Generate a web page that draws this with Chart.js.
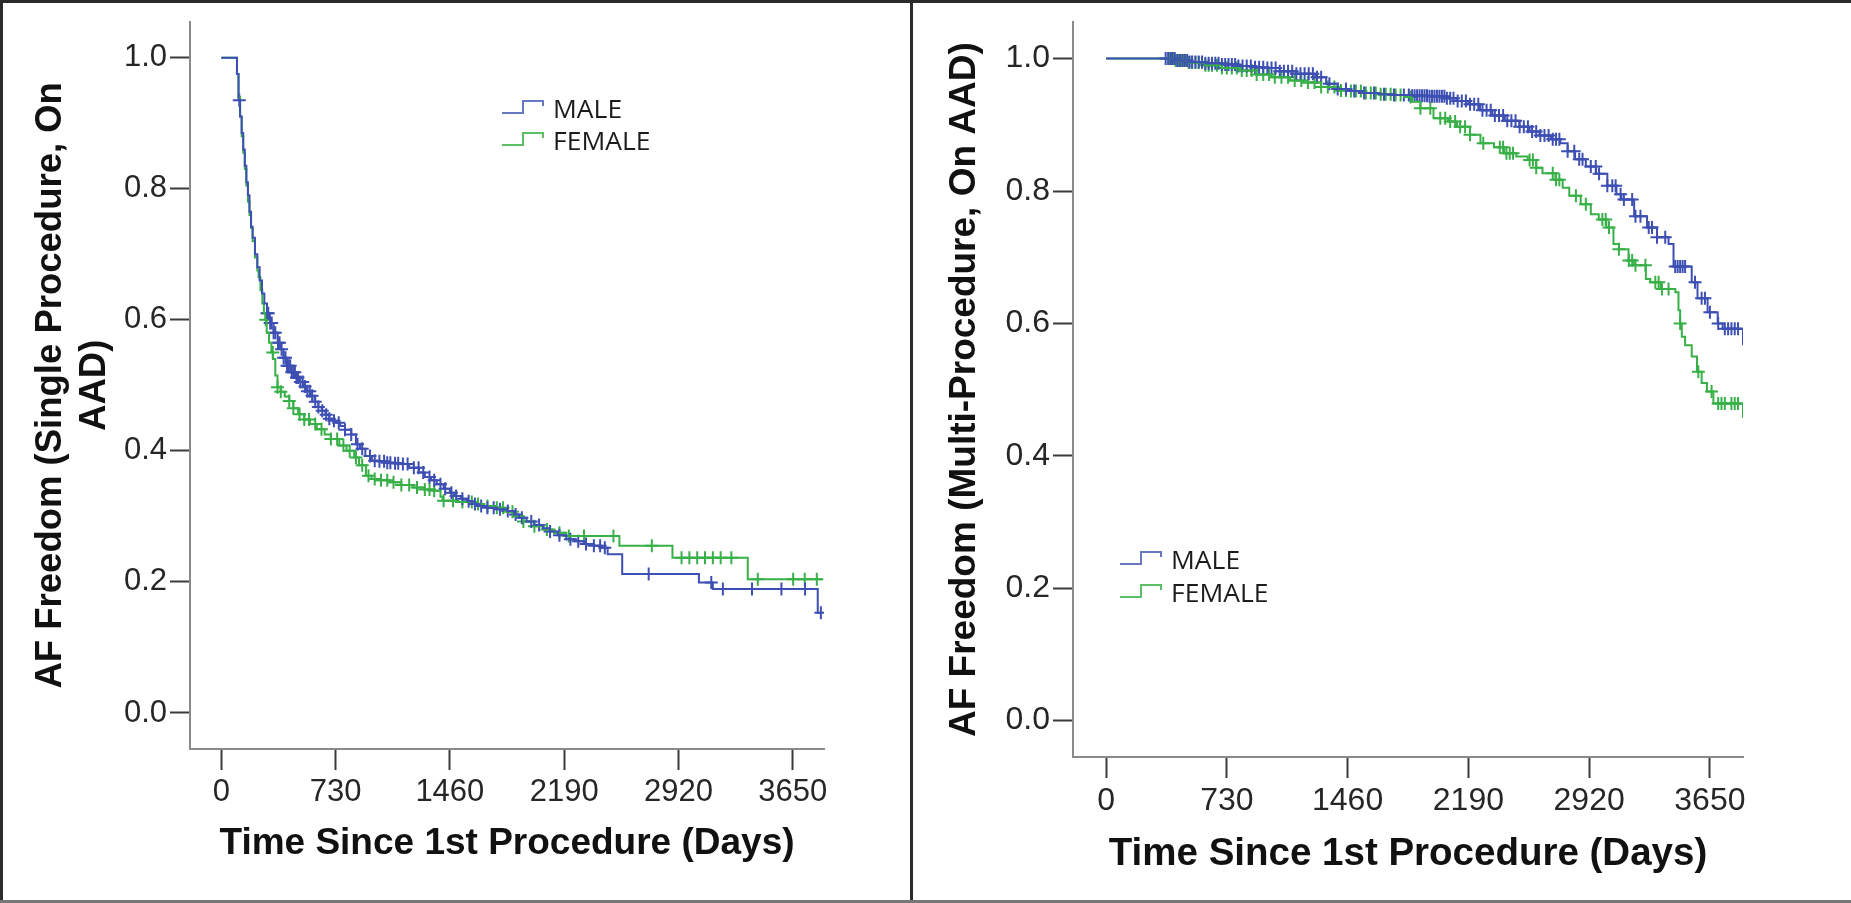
<!DOCTYPE html>
<html>
<head>
<meta charset="utf-8">
<script src="https://cdn.jsdelivr.net/npm/chart.js@4.4.1/dist/chart.umd.min.js"></script>
<style>
  body { margin: 0; background: #fff; }
  #wrap { position: relative; width: 1851px; height: 903px; overflow: hidden; background: #fff; }
  canvas { position: absolute; top: 0; }
  .rule { position: absolute; background: #2b2b2b; }
</style>
</head>
<body>
<div id="wrap">
  <canvas id="single_chart" width="912" height="903" style="left:0"></canvas>
  <canvas id="multi_chart" width="938" height="903" style="left:913px"></canvas>
  <div class="rule" style="left:0;top:0;width:1851px;height:3px"></div>
  <div class="rule" style="left:0;top:0;width:3px;height:903px"></div>
  <div class="rule" style="left:910px;top:0;width:3px;height:903px"></div>
  <div class="rule" style="left:0;top:900px;width:1851px;height:3px;background:#777"></div>
</div>
<script>
// Kaplan-Meier steps: [day, survival after that day's events]
const singleMale = [[0,1],[95,1],[100,0.975],[110,0.935],[120,0.91],[130,0.885],[140,0.86],[150,0.835],[160,0.81],[170,0.79],
  [180,0.765],[190,0.742],[200,0.725],[215,0.70],[230,0.68],[245,0.66],[260,0.64],[275,0.625],[292,0.61],[310,0.595],
  [334,0.58],[360,0.565],[380,0.555],[397,0.542],[420,0.53],[445,0.52],[472,0.512],[500,0.505],[525,0.498],[547,0.491],
  [570,0.484],[595,0.475],[620,0.467],[641,0.461],[665,0.455],[690,0.449],[715,0.446],[736,0.443],[760,0.438],[790,0.432],
  [830,0.425],[860,0.41],[886,0.403],[920,0.392],[962,0.385],[1000,0.384],[1050,0.382],[1100,0.381],[1149,0.38],[1200,0.374],
  [1262,0.367],[1300,0.36],[1340,0.355],[1376,0.349],[1420,0.342],[1460,0.336],[1489,0.331],[1530,0.327],[1570,0.323],[1601,0.319],
  [1650,0.316],[1700,0.313],[1760,0.311],[1827,0.308],[1870,0.303],[1902,0.298],[1950,0.292],[2000,0.287],[2054,0.282],[2100,0.277],
  [2150,0.271],[2204,0.265],[2260,0.262],[2317,0.258],[2380,0.255],[2430,0.252],[2468,0.242],[2561,0.212],[3051,0.199],[3140,0.189],
  [3810,0.153],[3840,0.153]];
const singleFemale = [[0,1],[95,1],[100,0.975],[110,0.94],[120,0.91],[130,0.88],[140,0.855],[150,0.83],[160,0.805],[170,0.78],
  [180,0.76],[190,0.74],[200,0.72],[215,0.695],[230,0.675],[238,0.665],[250,0.645],[262,0.625],[272,0.61],[281,0.6],
  [290,0.58],[305,0.565],[320,0.55],[330,0.54],[345,0.515],[359,0.497],[380,0.49],[405,0.483],[434,0.476],[460,0.465],
  [491,0.456],[530,0.448],[566,0.441],[610,0.433],[660,0.425],[700,0.418],[754,0.408],[800,0.40],[849,0.39],[880,0.378],
  [924,0.362],[960,0.357],[1000,0.355],[1075,0.352],[1150,0.348],[1225,0.344],[1300,0.341],[1357,0.339],[1400,0.33],[1413,0.324],
  [1500,0.322],[1601,0.319],[1680,0.316],[1752,0.313],[1810,0.307],[1865,0.30],[1930,0.292],[1997,0.285],[2060,0.28],[2129,0.275],
  [2204,0.27],[2543,0.255],[2882,0.237],[3363,0.204],[3835,0.204]];
const multiMale = [[0,1],[340,1],[420,0.997],[500,0.995],[600,0.993],[700,0.991],[800,0.989],[900,0.987],[958,0.986],[1050,0.981],
  [1150,0.977],[1265,0.972],[1330,0.962],[1400,0.954],[1451,0.951],[1550,0.948],[1650,0.946],[1728,0.945],[1850,0.944],[1942,0.943],
  [2050,0.94],[2120,0.936],[2190,0.931],[2260,0.922],[2335,0.914],[2410,0.906],[2498,0.897],[2560,0.89],[2620,0.884],[2690,0.878],
  [2746,0.872],[2790,0.86],[2835,0.848],[2900,0.837],[2962,0.826],[3030,0.808],[3085,0.795],[3115,0.787],[3192,0.762],[3270,0.745],
  [3330,0.73],[3400,0.72],[3430,0.686],[3514,0.686],[3540,0.662],[3575,0.638],[3636,0.617],[3697,0.60],[3727,0.592],[3845,0.592],
  [3850,0.567]];
const multiFemale = [[0,1],[340,1],[420,0.997],[500,0.994],[600,0.99],[700,0.986],[804,0.982],[908,0.976],[1000,0.972],[1112,0.967],
  [1193,0.964],[1300,0.957],[1407,0.952],[1451,0.951],[1550,0.948],[1650,0.946],[1728,0.945],[1800,0.942],[1850,0.935],[1900,0.925],
  [1979,0.91],[2068,0.905],[2121,0.897],[2200,0.885],[2263,0.872],[2345,0.866],[2406,0.857],[2480,0.852],[2549,0.847],[2600,0.835],
  [2638,0.827],[2716,0.817],[2760,0.805],[2800,0.793],[2869,0.78],[2930,0.765],[2978,0.757],[3024,0.745],[3067,0.72],[3100,0.712],
  [3158,0.695],[3190,0.688],[3263,0.667],[3290,0.662],[3353,0.652],[3441,0.647],[3460,0.62],[3470,0.60],[3480,0.58],[3500,0.567],
  [3540,0.55],[3572,0.527],[3600,0.51],[3632,0.497],[3671,0.479],[3845,0.479],[3850,0.457]];

// censored cases (days), drawn as + on the curve
const singleMaleCensor = [115,292,300,312,322,334,345,362,372,385,398,410,420,430,440,450,460,470,480,490,505,520,535,550,565,580,
  600,620,645,670,690,720,750,790,830,870,900,950,980,1010,1040,1060,1080,1110,1130,1160,1190,1230,1260,1290,1330,1360,1400,1430,
  1470,1500,1540,1580,1620,1660,1700,1740,1780,1830,1880,1920,1980,2030,2100,2160,2230,2280,2330,2380,2420,2450,2730,3130,3204,
  3390,3578,3729,3830];
const singleFemaleCensor = [284,329,359,380,434,460,500,530,560,600,640,700,740,780,820,860,900,940,980,1020,1060,1100,1150,1200,1250,
  1300,1330,1360,1420,1480,1540,1600,1640,1700,1760,1800,1860,1930,2000,2080,2160,2220,2317,2505,2750,2940,2990,3040,3090,3140,3190,
  3258,3427,3653,3727,3804];
const multiMaleCensor = [360,375,390,400,415,430,445,460,475,490,505,520,540,560,580,600,620,640,660,680,700,720,740,760,780,800,825,
  850,875,900,925,950,975,1000,1025,1050,1075,1100,1125,1150,1175,1200,1225,1250,1275,1300,1350,1400,1450,1500,1560,1620,1680,1740,
  1800,1830,1850,1865,1880,1895,1910,1925,1940,1955,1970,1985,2000,2015,2030,2045,2060,2080,2100,2125,2150,2175,2200,2225,2250,2275,
  2300,2325,2350,2375,2400,2425,2450,2475,2500,2525,2550,2575,2600,2625,2650,2675,2700,2720,2740,2790,2830,2860,2880,2930,2960,2980,
  3030,3060,3080,3110,3130,3180,3200,3230,3280,3300,3330,3380,3440,3455,3470,3485,3500,3560,3600,3620,3650,3700,3740,3760,3780,
  3800,3820];
const multiFemaleCensor = [380,395,410,420,435,450,465,480,500,520,540,560,580,600,620,640,670,700,730,760,790,820,850,880,910,950,
  985,1020,1060,1100,1140,1180,1220,1260,1300,1340,1380,1420,1450,1480,1510,1540,1570,1600,1630,1660,1690,1720,1750,1780,1840,1900,
  1960,2020,2050,2080,2110,2140,2170,2200,2280,2380,2400,2420,2440,2460,2560,2580,2600,2700,2720,2740,2840,2900,3000,3020,3040,
  3100,3160,3180,3200,3260,3320,3340,3360,3400,3470,3580,3660,3700,3720,3740,3780,3800,3820];

const xTicks = [0, 730, 1460, 2190, 2920, 3650];
const yTicks = [0, 0.2, 0.4, 0.6, 0.8, 1.0];
const groups = ['MALE', 'FEMALE'];

const BLUE = '#3d4fb3';
const GREEN = '#38b048';
const LEGEND_COLORS = ['#6878c4', '#5cbf66'];

function survivalAt(curve, day) {
  let s = curve[0][1];
  for (const p of curve) {
    if (p[0] <= day) s = p[1];
  }
  return s;
}

function stepData(curve) {
  return curve.map(p => ({x: p[0], y: p[1]}));
}

function censorData(curve, days) {
  return days.map(d => ({x: d, y: survivalAt(curve, d)}));
}

function buildDatasets(male, female, maleCens, femaleCens) {
  // chart.js 'before' = run flat to the next day, then drop
  return [
    {label: groups[0], data: stepData(male), borderColor: BLUE, borderWidth: 2, stepped: 'before', showLine: true, pointRadius: 0},
    {label: groups[1], data: stepData(female), borderColor: GREEN, borderWidth: 2, stepped: 'before', showLine: true, pointRadius: 0},
    {label: '', data: censorData(male, maleCens), borderColor: BLUE, borderWidth: 2, showLine: false,
      pointStyle: 'cross', pointRadius: 6.5},
    {label: '', data: censorData(female, femaleCens), borderColor: GREEN, borderWidth: 2, showLine: false,
      pointStyle: 'cross', pointRadius: 6.5},
  ];
}

// SPSS style legend with little step glyphs
const stepLegend = {
  id: 'stepLegend',
  afterDraw(chart, args, opts) {
    const ctx = chart.ctx;
    ctx.save();
    ctx.font = opts.size + 'px "Open Sans"';
    ctx.textBaseline = 'middle';
    chart.data.datasets.filter(d => d.label).forEach(function (ds, i) {
      const x = opts.x;
      const y = opts.y + i * opts.gap;
      ctx.strokeStyle = LEGEND_COLORS[i];
      ctx.lineWidth = 2;
      ctx.beginPath();
      ctx.moveTo(x, y + 3);
      ctx.lineTo(x + 21, y + 3);
      ctx.lineTo(x + 21, y - 9);
      ctx.lineTo(x + 41, y - 9);
      ctx.lineTo(x + 41, y - 4);
      ctx.stroke();
      ctx.fillStyle = '#1c1c1c';
      ctx.save();
      ctx.translate(x + 51, y + 1);
      ctx.scale(1.06, 1);
      ctx.fillText(ds.label, 0, 0);
      ctx.restore();
    });
    ctx.restore();
  }
};

function makeChart(id, cfg) {
  const ctx = document.getElementById(id);
  return new Chart(ctx, {
    type: 'scatter',
    data: {datasets: cfg.datasets},
    plugins: [stepLegend],
    options: {
      responsive: false,
      animation: false,
      devicePixelRatio: 1,
      layout: {padding: {left: 0, top: cfg.top, right: cfg.right, bottom: 0}},
      plugins: {
        legend: {display: false},
        tooltip: {enabled: false},
        stepLegend: cfg.legend,
      },
      scales: {
        x: {
          type: 'linear',
          min: -200,
          max: 3850,
          afterBuildTicks: scale => { scale.ticks = xTicks.map(v => ({value: v})); },
          afterFit: scale => { scale.height = cfg.xHeight; },
          border: {display: true, color: '#8a8a8a', width: 2},
          grid: {drawOnChartArea: false, drawTicks: true, tickLength: 21, tickColor: '#3a3a3a', tickWidth: 2},
          ticks: {
            color: '#262626',
            padding: 4,
            maxRotation: 0,
            autoSkip: false,
            font: {family: '"Liberation Sans", Arial', size: cfg.tickSize},
            callback: v => String(v),
          },
          title: {
            display: true,
            text: 'Time Since 1st Procedure (Days)',
            color: '#111',
            font: {family: '"Liberation Sans", Arial', size: cfg.xTitleSize, weight: 'bold'},
            padding: {top: 0, bottom: cfg.xTitlePad},
          }
        },
        y: {
          min: -0.055,
          max: 1.055,
          afterBuildTicks: scale => { scale.ticks = yTicks.map(v => ({value: v})); },
          afterFit: scale => { scale.width = cfg.yWidth; },
          border: {display: true, color: '#8a8a8a', width: 2},
          grid: {drawOnChartArea: false, drawTicks: true, tickLength: 20, tickColor: '#3a3a3a', tickWidth: 2},
          ticks: {
            color: '#262626',
            padding: 3,
            font: {family: '"Liberation Sans", Arial', size: cfg.tickSize},
            callback: v => v.toFixed(1),
          },
          title: {
            display: true,
            text: cfg.yTitle,
            color: '#111',
            font: {family: '"Liberation Sans", Arial', size: cfg.yTitleSize, weight: 'bold', lineHeight: 1.2},
            padding: {top: cfg.yTitlePad, bottom: 0},
          }
        }
      }
    }
  });
}

makeChart('single_chart', {
  datasets: buildDatasets(singleMale, singleFemale, singleMaleCensor, singleFemaleCensor),
  top: 21, right: 88, xHeight: 154, yWidth: 190,
  tickSize: 31, xTitleSize: 37, xTitlePad: 37, yTitleSize: 36.5, yTitlePad: 29,
  yTitle: ['AF Freedom (Single Procedure, On', 'AAD)'],
  legend: {x: 502, y: 110, gap: 32, size: 25},
});

makeChart('multi_chart', {
  datasets: buildDatasets(multiMale, multiFemale, multiMaleCensor, multiFemaleCensor),
  top: 18, right: 108, xHeight: 146, yWidth: 160,
  tickSize: 32, xTitleSize: 38.5, xTitlePad: 26, yTitleSize: 37, yTitlePad: 30,
  yTitle: 'AF Freedom (Multi-Procedure, On AAD)',
  legend: {x: 207, y: 561, gap: 33, size: 25},
});
</script>
</body>
</html>
